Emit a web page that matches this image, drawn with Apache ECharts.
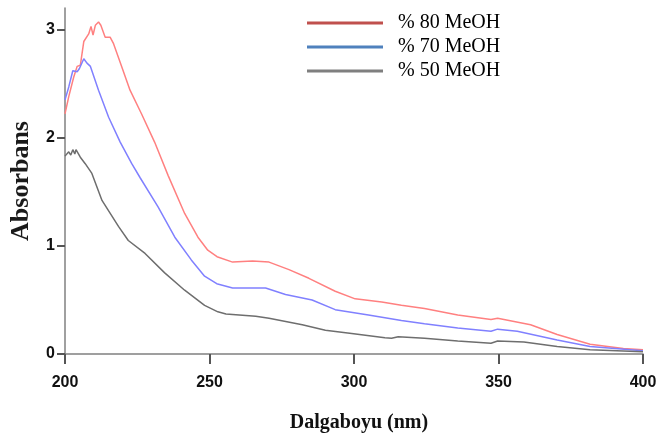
<!DOCTYPE html>
<html>
<head>
<meta charset="utf-8">
<script src="https://cdn.jsdelivr.net/npm/echarts@6/dist/echarts.min.js"></script>
<style>
html,body{margin:0;padding:0;background:#fff;}
#chart{width:661px;height:438px;}
</style>
</head>
<body>
<div id="chart"></div>
<script>
const seriesNames = ['% 80 MeOH', '% 70 MeOH', '% 50 MeOH'];
const xTicks = [200, 250, 300, 350, 400];
const yTicks = [0, 1, 2, 3];

const nm80 = [200,201.3,203,204.2,205.3,206.5,208.2,209,209.7,210.5,211.6,212.4,213.9,215.6,216.8,219.6,222.5,226.5,231,235.7,241.4,246,249.4,252.6,258,264.9,270.6,277.5,284.4,293.5,300.4,309.6,316.4,324.4,335.9,347.4,349.7,361.1,370.3,381.7,393.2,400];
const abs80 = [2.22,2.38,2.56,2.66,2.67,2.89,2.96,3.03,2.95,3.04,3.07,3.04,2.93,2.93,2.87,2.66,2.44,2.22,1.96,1.65,1.30,1.08,0.96,0.90,0.85,0.86,0.85,0.78,0.70,0.58,0.51,0.48,0.45,0.42,0.36,0.32,0.33,0.27,0.18,0.09,0.05,0.04];

const nm70 = [200,201.3,202.7,204.2,205,206.5,207.6,208.8,211.6,215.1,219.1,223.1,226,232.2,238,243.7,248.3,252.5,258,269.4,276.3,285.5,293.5,305,316.4,324.4,335.9,347.4,349.7,356.5,370.3,381.7,400];
const abs70 = [2.35,2.47,2.62,2.61,2.64,2.73,2.69,2.66,2.44,2.19,1.96,1.76,1.63,1.36,1.08,0.87,0.72,0.65,0.61,0.61,0.55,0.50,0.41,0.36,0.31,0.28,0.24,0.21,0.23,0.21,0.13,0.07,0.03];

const nm50 = [200,201.3,202,202.7,203.4,203.8,205.3,207,209.3,212.8,218.5,221.9,227.7,234.5,241.4,248.3,252.9,255.7,266,270.6,282.1,290.1,299.2,310.7,313,315.3,324.4,335.9,347.4,349.7,358.8,370.3,381.7,400];
const abs50 = [1.83,1.87,1.84,1.89,1.85,1.89,1.82,1.76,1.67,1.42,1.18,1.05,0.93,0.75,0.59,0.45,0.39,0.37,0.35,0.33,0.27,0.22,0.19,0.15,0.145,0.16,0.145,0.12,0.10,0.12,0.11,0.07,0.04,0.02];

const lineColors = ['#ff8080', '#8080ff', '#6e6e6e'];
const legendColors = ['#c0504d', '#4f81bd', '#7f7f7f'];

function pairs(xs, ys) { return xs.map((x, i) => [x, ys[i]]); }
const dataSets = [pairs(nm80, abs80), pairs(nm70, abs70), pairs(nm50, abs50)];

const chart = echarts.init(document.getElementById('chart'), null, {renderer: 'canvas'});
chart.setOption({
  animation: false,
  backgroundColor: '#fff',
  grid: {left: 61, right: 18, top: 8, bottom: 84, containLabel: false},
  legend: {
    orient: 'vertical',
    left: 302,
    top: 8,
    itemWidth: 76,
    itemHeight: 3,
    itemGap: 4,
    icon: 'rect',
    textStyle: {fontFamily: 'Liberation Serif', fontSize: 20, color: '#000', padding: [0, 0, 0, 10], lineHeight: 20},
    data: seriesNames.map((n, i) => ({name: n, itemStyle: {color: legendColors[i]}}))
  },
  xAxis: {
    type: 'value',
    min: 200, max: 400, interval: 50,
    name: 'Dalgaboyu (nm)',
    nameLocation: 'middle',
    nameGap: 59,
    nameTextStyle: {fontFamily: 'Liberation Serif', fontWeight: 'bold', fontSize: 20, color: '#111', padding: [0, 0, 0, 10]},
    axisLine: {show: true, onZero: false, lineStyle: {color: '#808080', width: 1.5}},
    axisTick: {show: true, length: 10, lineStyle: {color: '#555555', width: 2}},
    minorTick: {show: true, splitNumber: 1, length: 10, lineStyle: {color: '#555555', width: 2}},
    axisLabel: {fontFamily: 'Liberation Sans', fontWeight: 'bold', fontSize: 16, color: '#111', margin: 21},
    splitLine: {show: false}
  },
  yAxis: {
    type: 'value',
    min: 0, max: 3.2, interval: 1,
    name: 'Absorbans',
    nameLocation: 'middle',
    nameGap: 31,
    nameTextStyle: {fontFamily: 'Liberation Serif', fontWeight: 'bold', fontSize: 26, color: '#1a1a1a'},
    axisLine: {show: true, onZero: false, lineStyle: {color: '#808080', width: 1.5}},
    axisTick: {show: true, length: 8, lineStyle: {color: '#555555', width: 2}, customValues: yTicks},
    minorTick: {show: true, splitNumber: 1, length: 8, lineStyle: {color: '#555555', width: 2}},
    axisLabel: {fontFamily: 'Liberation Sans', fontWeight: 'bold', fontSize: 16, color: '#111', margin: 10, customValues: yTicks},
    splitLine: {show: false}
  },
  series: dataSets.map((d, i) => ({
    name: seriesNames[i],
    type: 'line',
    data: d,
    showSymbol: false,
    symbol: 'none',
    smooth: false,
    itemStyle: {color: lineColors[i]},
    lineStyle: {color: lineColors[i], width: 1.5}
  }))
});
</script>
</body>
</html>
